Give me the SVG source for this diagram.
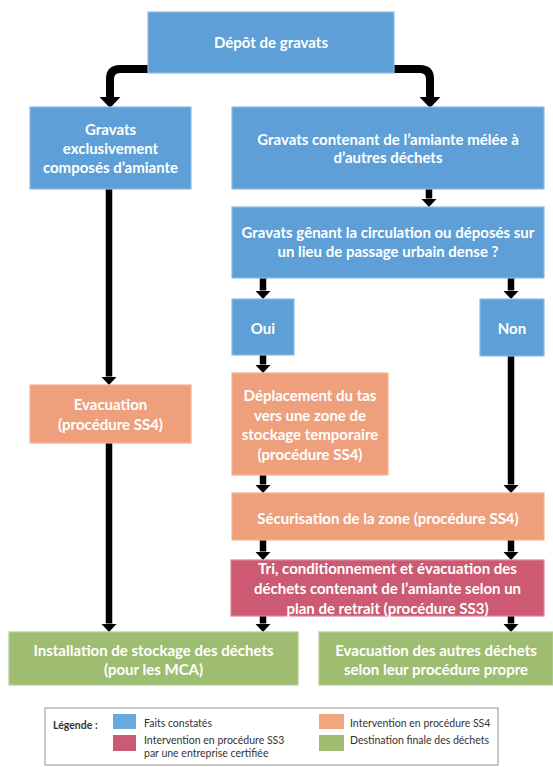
<svg xmlns="http://www.w3.org/2000/svg" width="553" height="767" viewBox="0 0 553 767">
<defs>
<style>
.box{stroke-width:1.2}
.blue{fill:#5d9fd6;stroke:#8dbde6}
.orange{fill:#eea07c;stroke:#f2b595}
.red{fill:#cb5a72;stroke:#d98596}
.green{fill:#9ebd70;stroke:#b5cd92}
.t{font-family:Lato,"Liberation Sans",sans-serif;font-weight:bold;font-size:15px;fill:#ffffff;text-anchor:middle}
.c{fill:none;stroke:#000;stroke-linejoin:round}
.big{stroke-width:8}
.sm{stroke-width:6.5}
.lg{font-family:Lato,"Liberation Sans",sans-serif;font-size:10.5px;fill:#333}
</style>
<marker id="ab" markerUnits="userSpaceOnUse" markerWidth="12" markerHeight="22" viewBox="0 -11 12 22" refX="0" refY="0" orient="auto"><path d="M0,-10.5 L11,0 L0,10.5 Z" fill="#000"/></marker>
<marker id="as" markerUnits="userSpaceOnUse" markerWidth="10" markerHeight="18" viewBox="0 -9 10 18" refX="0" refY="0" orient="auto"><path d="M0,-8 L8.5,0 L0,8 Z" fill="#000"/></marker>
</defs>
<rect width="553" height="767" fill="#ffffff"/>
<g id="connectors">
<path class="c big" d="M148,69 H120 Q110,69 110,79 V97" marker-end="url(#ab)"/>
<path class="c big" d="M394,69 H420 Q430,69 430,79 V97" marker-end="url(#ab)"/>
<path class="c sm" d="M429,189 V198.5" marker-end="url(#as)"/>
<path class="c sm" d="M263,278 V290.5" marker-end="url(#as)"/>
<path class="c sm" d="M511,278 V290.5" marker-end="url(#as)"/>
<path class="c sm" d="M109,189 V376.5" marker-end="url(#as)"/>
<path class="c sm" d="M263,355 V364.5" marker-end="url(#as)"/>
<path class="c sm" d="M263,475 V484.5" marker-end="url(#as)"/>
<path class="c sm" d="M511,356 V484.5" marker-end="url(#as)"/>
<path class="c sm" d="M263,540 V551.5" marker-end="url(#as)"/>
<path class="c sm" d="M511,540 V551.5" marker-end="url(#as)"/>
<path class="c sm" d="M263,616 V623.5" marker-end="url(#as)"/>
<path class="c sm" d="M511,616 V623.5" marker-end="url(#as)"/>
<path class="c sm" d="M109,443 V623.5" marker-end="url(#as)"/>
</g>
<g id="depot"><rect class="box blue" x="148" y="12" width="246" height="61"/><text class="t" x="271" y="48">Dépôt de gravats</text></g>
<g id="exclusif"><rect class="box blue" x="30" y="107" width="161" height="82"/><text class="t" x="110.5" y="135">Gravats</text><text class="t" x="110.5" y="154">exclusivement</text><text class="t" x="110.5" y="173">composés d’amiante</text></g>
<g id="melee"><rect class="box blue" x="232" y="107" width="312" height="82"/><text class="t" x="388" y="145">Gravats contenant de l’amiante mélée à</text><text class="t" x="388" y="163">d’autres déchets</text></g>
<g id="genant"><rect class="box blue" x="232" y="207" width="312" height="71"/><text class="t" x="388" y="238">Gravats gênant la circulation ou déposés sur</text><text class="t" x="388" y="257">un lieu de passage urbain dense ?</text></g>
<g id="oui"><rect class="box blue" x="232" y="299" width="62" height="56"/><text class="t" x="263" y="334">Oui</text></g>
<g id="non"><rect class="box blue" x="480" y="299" width="64" height="57"/><text class="t" x="512" y="334">Non</text></g>
<g id="evacuation"><rect class="box orange" x="30" y="385" width="161" height="58"/><text class="t" x="110.5" y="410">Evacuation</text><text class="t" x="110.5" y="430">(procédure SS4)</text></g>
<g id="deplacement"><rect class="box orange" x="232" y="373" width="156" height="102"/><text class="t" x="310" y="401">Déplacement du tas</text><text class="t" x="310" y="421">vers une zone de</text><text class="t" x="310" y="440">stockage temporaire</text><text class="t" x="310" y="460">(procédure SS4)</text></g>
<g id="securisation"><rect class="box orange" x="232" y="493" width="312" height="47"/><text class="t" x="388" y="524">Sécurisation de la zone (procédure SS4)</text></g>
<g id="tri"><rect class="box red" x="231" y="560" width="313" height="56"/><text class="t" x="387.5" y="574">Tri, conditionnement et évacuation des</text><text class="t" x="387.5" y="594">déchets contenant de l’amiante selon un</text><text class="t" x="387.5" y="614">plan de retrait (procédure SS3)</text></g>
<g id="installation"><rect class="box green" x="9" y="632" width="289" height="53"/><text class="t" x="153.5" y="656">Installation de stockage des déchets</text><text class="t" x="153.5" y="675">(pour les MCA)</text></g>
<g id="autres"><rect class="box green" x="319" y="632" width="234" height="53"/><text class="t" x="436" y="656">Evacuation des autres déchets</text><text class="t" x="436" y="675">selon leur procédure propre</text></g>
<g id="legende">
<rect x="45" y="708" width="453" height="57" fill="#ffffff" stroke="#a6a6a6" stroke-width="1.2"/>
<text class="lg" x="53" y="729" font-weight="bold">Légende :</text>
<rect x="113" y="714" width="23" height="15" fill="#6aa9de"/>
<text class="lg" x="144" y="727">Faits constatés</text>
<rect x="113" y="735" width="23" height="16" fill="#cb5a72"/>
<text class="lg" x="144" y="744">Intervention en procédure SS3</text>
<text class="lg" x="144" y="757">par une entreprise certifiée</text>
<rect x="319" y="714" width="25" height="15" fill="#f0a67f"/>
<text class="lg" x="350" y="727">Intervention en procédure SS4</text>
<rect x="319" y="735" width="25" height="16" fill="#9ebd70"/>
<text class="lg" x="350" y="744">Destination finale des déchets</text>
</g>
</svg>
